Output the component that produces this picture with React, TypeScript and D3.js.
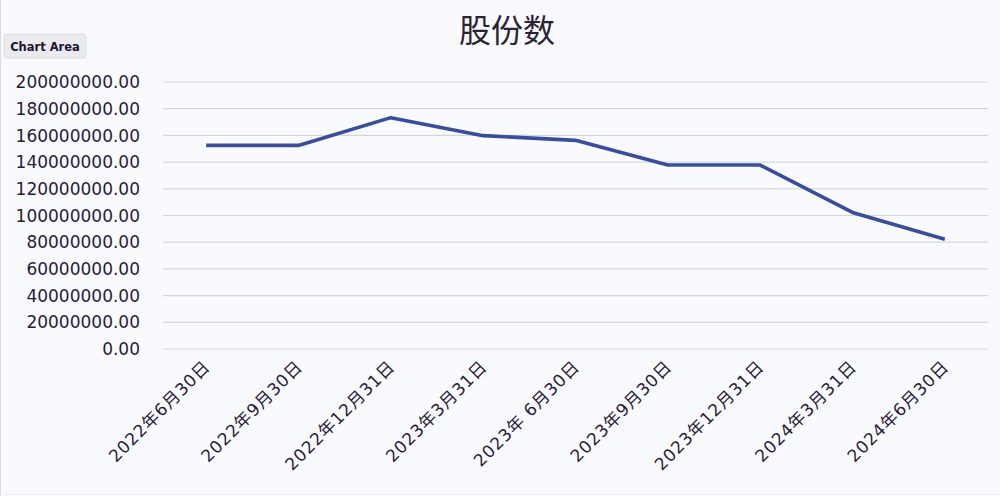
import React from "react";
import * as d3 from "d3";

const categories = [
  "2022年6月30日",
  "2022年9月30日",
  "2022年12月31日",
  "2023年3月31日",
  "2023年 6月30日",
  "2023年9月30日",
  "2023年12月31日",
  "2024年3月31日",
  "2024年6月30日",
];
const shares = [152500000, 152500000, 173300000, 159800000, 156300000, 137800000, 137800000, 102300000, 82200000];
const yTicks = [0, 20000000, 40000000, 60000000, 80000000, 100000000, 120000000, 140000000, 160000000, 180000000, 200000000];
const title = "股份数";

const W = 1000;
const H = 496;
const plot = { left: 160, right: 991, top: 82, bottom: 349 };
const grid = { left: 163, right: 988 };

export default function App() {
  const x = d3.scaleBand<string>().domain(categories).range([plot.left, plot.right]);
  const y = d3.scaleLinear().domain([0, 200000000]).range([plot.bottom, plot.top]);
  const line = d3
    .line<number>()
    .x((_, i) => (x(categories[i]) as number) + x.bandwidth() / 2)
    .y((d) => y(d));
  const labelFont = "'DejaVu Sans', 'Noto Sans CJK SC', sans-serif";
  return (
    <svg
      width={W}
      height={H}
      style={{ position: "absolute", left: 0, top: 0, display: "block" }}
    >
      <rect x={0} y={0} width={W} height={H} fill="#f9fafd" />
      <line x1={0.5} y1={0} x2={0.5} y2={H} stroke="#d8dbe0" />
      <line x1={0} y1={H - 1.5} x2={W} y2={H - 1.5} stroke="#eceef2" />
      <text
        x={507}
        y={42}
        textAnchor="middle"
        fontSize={32}
        fill="#2b2233"
        fontFamily="'Noto Sans CJK SC', sans-serif"
      >
        {title}
      </text>
      <rect x={4} y={34} width={82} height={24} rx={3} fill="#ebebef" stroke="#dcdce2" />
      <text x={45} y={50.5} textAnchor="middle" fontSize={11.5} fontWeight="bold" fill="#1e1530" fontFamily="'DejaVu Sans', sans-serif">
        Chart Area
      </text>
      {yTicks.map((t) => (
        <g key={t}>
          <line x1={grid.left} x2={grid.right} y1={y(t)} y2={y(t)} stroke="#d3d7dd" strokeWidth={1.2} />
          <text
            x={140}
            y={y(t)}
            dy="0.36em"
            textAnchor="end"
            fontSize={17}
            fill="#2a1a3a"
            fontFamily={labelFont}
          >
            {d3.format(".2f")(t)}
          </text>
        </g>
      ))}
      {categories.map((c) => {
        const cx = (x(c) as number) + x.bandwidth() / 2;
        return (
          <text
            key={c}
            transform={`translate(${cx + 5},${368}) rotate(-45)`}
            textAnchor="end"
            fontSize={17}
            letterSpacing={0.8}
            fill="#2a1a3a"
            fontFamily={labelFont}
          >
            {c}
          </text>
        );
      })}
      <path d={line(shares) || ""} fill="none" stroke="#3a4d9c" strokeWidth={3.6} strokeLinejoin="round" />
    </svg>
  );
}
